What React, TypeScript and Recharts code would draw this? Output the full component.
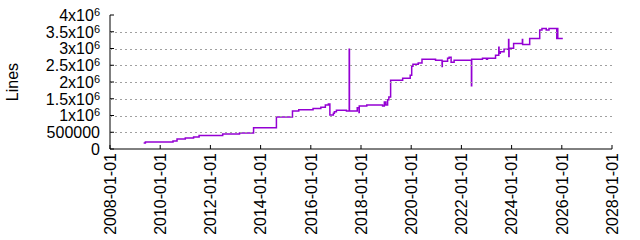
import React from 'react';
import { LineChart, Line, XAxis, YAxis } from 'recharts';

// time in decimal years
const years = [
  2009.34, 2009.41, 2010.51, 2010.67, 2011.0, 2011.33, 2011.55, 2012.49, 2013.16, 2013.72,
  2014.63, 2015.27, 2015.52, 2016.09, 2016.4, 2016.58, 2016.7, 2016.76, 2016.9, 2016.94,
  2017.02, 2017.42, 2017.53, 2017.54, 2017.85, 2017.92, 2017.93, 2018.23, 2018.86, 2018.93,
  2018.99, 2019.06, 2019.11, 2019.18, 2019.66, 2019.96, 2020.02, 2020.07, 2020.28, 2020.43,
  2020.97, 2021.23, 2021.24, 2021.45, 2021.51, 2021.59, 2021.71, 2022.4, 2022.41, 2022.84,
  2023.0, 2023.04, 2023.36, 2023.49, 2023.5, 2023.55, 2023.7, 2023.88, 2023.89, 2023.9,
  2024.08, 2024.43, 2024.44, 2024.72, 2025.12, 2025.21, 2025.38, 2025.49, 2025.8, 2025.82,
  2025.84, 2026.04,
];

const lines = [
  180000, 210000, 240000, 300000, 330000, 360000, 405000, 446000, 476000, 634000,
  952000, 1131000, 1170000, 1208000, 1250000, 1310000, 1340000, 1012000, 1070000, 1110000,
  1160000, 1131000, 2976000, 1131000, 1230000, 1090000, 1280000, 1310000, 1280000, 1400000,
  1310000, 1470000, 1550000, 2050000, 2110000, 2200000, 2470000, 2530000, 2570000, 2680000,
  2650000, 2460000, 2620000, 2710000, 2740000, 2590000, 2650000, 1890000, 2680000, 2710000,
  2680000, 2710000, 2800000, 3040000, 2860000, 2900000, 2980000, 3270000, 2760000, 3010000,
  3150000, 3270000, 3120000, 3300000, 3550000, 3600000, 3550000, 3600000, 3300000, 3600000,
  3300000, 3300000,
];

const xTicks = [2008, 2010, 2012, 2014, 2016, 2018, 2020, 2022, 2024, 2026, 2028];
const yTicks = [0, 500000, 1000000, 1500000, 2000000, 2500000, 3000000, 3500000, 4000000];

const data = years.map((t, i) => ({ t, lines: lines[i] }));

const FONT = '"Liberation Sans", Arial, sans-serif';
const CHART_W = 640;
const CHART_H = 240;
const Y_AXIS_W = 110;
const MARGIN = { top: 15, right: 28, bottom: 0, left: 0 };
const PLOT_W = CHART_W - Y_AXIS_W - MARGIN.right - MARGIN.left;

// bottom axis: inward tick + rotated date label
const BottomTick = ({ x, y, payload }: any) => (
  <g>
    <line x1={x} y1={y} x2={x} y2={y - 4} stroke="#000" />
    <text
      x={x}
      y={y}
      transform={`rotate(-90 ${x} ${y})`}
      textAnchor="end"
      dx={-4}
      dy="0.36em"
      fontSize={16}
      fontFamily={FONT}
      fill="#000"
    >
      {`${payload.value}-01-01`}
    </text>
  </g>
);

const TopTick = ({ x, y }: any) => <line x1={x} y1={y} x2={x} y2={y + 4} stroke="#000" />;
const RightTick = ({ x, y }: any) => <line x1={x} y1={y} x2={x - 4} y2={y} stroke="#000" />;

// left axis: dashed grid line across the plot, inward tick, label
const LeftTick = ({ x, y, payload }: any) => {
  const v = payload.value as number;
  const m = v / 1000000;
  const sci = v >= 1000000;
  const yy = Math.round(y) + 0.5;
  const inner = v > yTicks[0] && v < yTicks[yTicks.length - 1];
  return (
    <g>
      {inner && (
        <line x1={x} y1={yy} x2={x + PLOT_W} y2={yy} stroke="#a0a0a0" strokeDasharray="2 3" />
      )}
      <line x1={x} y1={y} x2={x + 4} y2={y} stroke="#000" />
      <text x={x - 10} y={y} dy="0.36em" textAnchor="end" fontSize={16} fontFamily={FONT} fill="#000">
        {sci ? (
          <>
            <tspan>{`${m}x10`}</tspan>
            <tspan dy={-5} fontSize={11}>6</tspan>
          </>
        ) : (
          String(v)
        )}
      </text>
    </g>
  );
};

const YLabel = (props: any) => {
  const vb = props.viewBox || { x: 0, y: 15, width: 110, height: 134 };
  const cx = vb.x + 12;
  const cy = vb.y + vb.height / 2;
  return (
    <text
      x={cx}
      y={cy}
      transform={`rotate(-90 ${cx} ${cy})`}
      textAnchor="middle"
      dominantBaseline="central"
      fontSize={16}
      fontFamily={FONT}
      fill="#000"
    >
      Lines
    </text>
  );
};

export default function App() {
  return (
    <div style={{ position: 'absolute', left: 0, top: 0, width: CHART_W, height: CHART_H, background: '#fff' }}>
      <LineChart width={CHART_W} height={CHART_H} data={data} margin={MARGIN}>
        <YAxis
          yAxisId="l"
          type="number"
          domain={[0, 4000000]}
          ticks={yTicks}
          allowDataOverflow
          width={Y_AXIS_W}
          tickSize={0}
          tickMargin={0}
          tickLine={false}
          axisLine={{ stroke: '#000' }}
          tick={<LeftTick />}
          interval={0}
          label={<YLabel />}
        />
        <YAxis
          yAxisId="r"
          orientation="right"
          type="number"
          domain={[0, 4000000]}
          ticks={yTicks}
          allowDataOverflow
          width={0}
          tickSize={0}
          tickMargin={0}
          tickLine={false}
          axisLine={{ stroke: '#000' }}
          tick={<RightTick />}
          interval={0}
        />
        <XAxis
          xAxisId="b"
          dataKey="t"
          type="number"
          domain={[2008, 2028]}
          ticks={xTicks}
          allowDataOverflow
          height={91}
          tickSize={0}
          tickMargin={0}
          tickLine={false}
          axisLine={{ stroke: '#000' }}
          tick={<BottomTick />}
          interval={0}
        />
        <XAxis
          xAxisId="t"
          orientation="top"
          dataKey="t"
          type="number"
          domain={[2008, 2028]}
          ticks={xTicks}
          allowDataOverflow
          height={0}
          tickSize={0}
          tickMargin={0}
          tickLine={false}
          axisLine={{ stroke: '#000' }}
          tick={<TopTick />}
          interval={0}
        />
        <Line
          xAxisId="b"
          yAxisId="l"
          type="stepAfter"
          dataKey="lines"
          stroke="#9400d3"
          strokeWidth={1.5}
          dot={false}
          activeDot={false}
          isAnimationActive={false}
        />
      </LineChart>
    </div>
  );
}
